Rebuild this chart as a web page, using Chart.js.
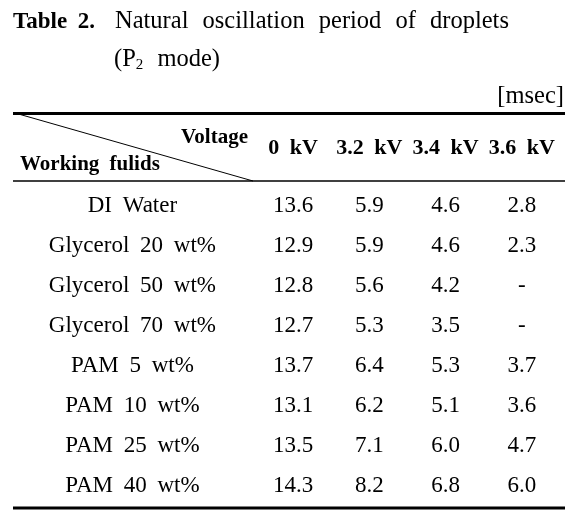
<!DOCTYPE html>
<html>
<head>
<meta charset="utf-8">
<script src="https://cdn.jsdelivr.net/npm/chart.js@4"></script>
<style>
  html, body { margin: 0; padding: 0; background: #fff; }
  #wrap { width: 586px; height: 512px; }
</style>
</head>
<body>
<div id="wrap"><canvas id="chart" width="586" height="512"></canvas></div>
<script>
const voltages = ['0 kV', '3.2 kV', '3.4 kV', '3.6 kV'];
const fluids = [
    'DI Water',
    'Glycerol 20 wt%',
    'Glycerol 50 wt%',
    'Glycerol 70 wt%',
    'PAM 5 wt%',
    'PAM 10 wt%',
    'PAM 25 wt%',
    'PAM 40 wt%'
];
// one array per voltage column, in msec (null = not measured)
const v0 = [13.6, 12.9, 12.8, 12.7, 13.7, 13.1, 13.5, 14.3];
const v32 = [5.9, 5.9, 5.6, 5.3, 6.4, 6.2, 7.1, 8.2];
const v34 = [4.6, 4.6, 4.2, 3.5, 5.3, 5.1, 6.0, 6.8];
const v36 = [2.8, 2.3, null, null, 3.7, 3.6, 4.7, 6.0];
const columns = [v0, v32, v34, v36];

const serif = "'Liberation Serif', 'Times New Roman', serif";

function spacing(ctx, px) {
    if ('wordSpacing' in ctx) ctx.wordSpacing = (px || 5) + 'px';
}

const tablePlugin = {
    id: 'table',
    beforeUpdate(chart) { spacing(chart.ctx); },
    beforeDraw(chart) {
        const ctx = chart.ctx;
        ctx.save();
        ctx.fillStyle = '#fff';
        ctx.fillRect(0, 0, chart.width, chart.height);
        ctx.restore();
        spacing(ctx);
    },
    afterDraw(chart) {
        const ctx = chart.ctx;
        const area = chart.chartArea;
        const x = chart.scales.x, y = chart.scales.y;
        const left = 13, right = area.right + 5;
        ctx.save();
        ctx.fillStyle = '#000';
        ctx.strokeStyle = '#000';
        ctx.textBaseline = 'alphabetic';

        // caption
        spacing(ctx, 5);
        ctx.textAlign = 'left';
        ctx.font = 'bold 23px ' + serif;
        ctx.fillText('Table 2.', left, 28);
        spacing(ctx, 8);
        ctx.font = '24.5px ' + serif;
        ctx.fillText('Natural oscillation period of droplets', 115, 28);
        ctx.fillText('(P', 114, 66);
        let px = 114 + ctx.measureText('(P').width;
        ctx.font = '15px ' + serif;
        ctx.fillText('2', px, 69);
        px += ctx.measureText('2').width;
        ctx.font = '24.5px ' + serif;
        ctx.fillText(' mode)', px, 66);
        spacing(ctx, 5);
        ctx.textAlign = 'right';
        ctx.fillText('[msec]', right - 1, 103);

        // rules
        ctx.lineWidth = 3;
        ctx.beginPath();
        ctx.moveTo(left, 113.5); ctx.lineTo(right, 113.5);
        ctx.moveTo(left, area.bottom + 2.5); ctx.lineTo(right, area.bottom + 2.5);
        ctx.stroke();
        ctx.lineWidth = 1.5;
        ctx.beginPath();
        ctx.moveTo(left, 181); ctx.lineTo(right, 181);
        ctx.stroke();
        ctx.lineWidth = 1;
        ctx.beginPath();
        ctx.moveTo(15, 113); ctx.lineTo(area.left - 2, 181);
        ctx.stroke();

        // corner header
        ctx.font = 'bold 21px ' + serif;
        ctx.textAlign = 'right';
        ctx.fillText('Voltage', 248, 143);
        ctx.textAlign = 'left';
        ctx.fillText('Working fulids', 20, 170);

        // cells
        ctx.font = '23px ' + serif;
        ctx.textAlign = 'center';
        ctx.textBaseline = 'middle';
        columns.forEach((col, j) => {
            col.forEach((v, i) => {
                const t = v === null ? '-' : v.toFixed(1);
                ctx.fillText(t, x.getPixelForValue(j), y.getPixelForValue(i));
            });
        });
        ctx.restore();
    }
};

const datasets = columns.map((col, j) => ({
    label: voltages[j],
    data: col.map((v, i) => ({ x: voltages[j], y: fluids[i] })),
    pointRadius: 0,
    showLine: false
}));

function noPadding(scale) {
    scale.paddingTop = 0;
    scale.paddingBottom = 0;
    scale.paddingLeft = 0;
    scale.paddingRight = 0;
}

const config = {
    type: 'line',
    data: { datasets: datasets },
    options: {
        responsive: false,
        animation: false,
        events: [],
        layout: { padding: { left: 15, right: 26, top: 0, bottom: 6.5 } },
        plugins: { legend: { display: false }, tooltip: { enabled: false } },
        scales: {
            x: {
                type: 'category',
                labels: voltages,
                position: 'top',
                offset: true,
                grid: { display: false, drawTicks: false },
                border: { display: false },
                ticks: {
                    color: '#000',
                    font: { family: serif, size: 22, weight: 'bold' },
                    padding: 24,
                    maxRotation: 0,
                    autoSkip: false
                },
                afterFit(scale) { scale.height = 185.5; noPadding(scale); }
            },
            y: {
                type: 'category',
                labels: fluids,
                offset: true,
                grid: { display: false, drawTicks: false },
                border: { display: false },
                ticks: {
                    color: '#000',
                    font: { family: serif, size: 23 },
                    crossAlign: 'center',
                    padding: 39,
                    autoSkip: false
                },
                afterFit(scale) { scale.width = 240; noPadding(scale); }
            }
        }
    },
    plugins: [tablePlugin]
};

const myChart = new Chart(document.getElementById('chart'), config);
</script>
</body>
</html>
